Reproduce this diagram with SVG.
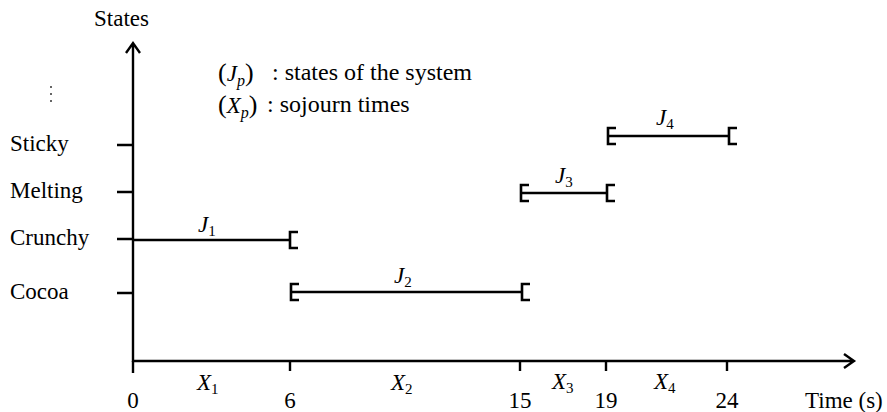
<svg xmlns="http://www.w3.org/2000/svg" width="887" height="412" viewBox="0 0 887 412">
<style>
.ln{stroke:#000;stroke-width:2.4;fill:none}
.br{stroke:#000;stroke-width:2.6;fill:none}
.t{font-family:"Liberation Serif","Times New Roman",serif;font-size:23px;fill:#000}
.lg{font-family:"Liberation Serif","Times New Roman",serif;font-size:24px;fill:#000}
.m{font-family:"Liberation Serif","Times New Roman",serif;font-size:23px;font-style:italic;fill:#000}
.p{font-family:"Liberation Serif","Times New Roman",serif;font-size:26px;fill:#000}
.s{font-size:15px;font-style:normal}
.si{font-size:16px;font-style:italic}
</style>
<rect width="887" height="412" fill="#fff"/>
<g id="axes">
<path class="ln" d="M133,362 V43 M126,53 L133,43 L140,53"/>
<path class="ln" d="M132,361 H854 M844,354 L854,361 L844,368"/>
<path class="ln" d="M117,145 H133 M117,192 H133 M117,239 H133 M117,293 H133"/>
<path class="ln" d="M133,361 V373 M290,361 V371 M520,361 V371 M606,361 V371 M727,361 V371"/>
<text class="t" x="94" y="26">States</text>
<text class="t" x="805" y="408">Time (s)</text>
<text class="t" x="133" y="408" text-anchor="middle">0</text>
<text class="t" x="290" y="408" text-anchor="middle">6</text>
<text class="t" x="520" y="408" text-anchor="middle">15</text>
<text class="t" x="606" y="408" text-anchor="middle">19</text>
<text class="t" x="727" y="408" text-anchor="middle">24</text>
<text class="t" x="10" y="151">Sticky</text>
<text class="t" x="10" y="198">Melting</text>
<text class="t" x="10" y="245">Crunchy</text>
<text class="t" x="10" y="299">Cocoa</text>
<path d="M51,86 v2 M51,93 v2 M51,100 v2" stroke="#000" stroke-width="1.2"/>
</g>
<g id="legend">
<text class="p" x="218" y="81">(<tspan class="m">J</tspan><tspan class="m si" dy="5">p</tspan><tspan dy="-5">)</tspan></text>
<text class="lg" x="272" y="80">: states of the system</text>
<text class="p" x="218" y="113">(<tspan class="m">X</tspan><tspan class="m si" dy="5">p</tspan><tspan dy="-5">)</tspan></text>
<text class="lg" x="267" y="112">: sojourn times</text>
</g>
<g id="connectors">
<g id="J1">
<path class="ln" d="M133,240 H290"/>
<path class="br" d="M298,232 H290 V248 H298"/>
<text class="m" x="198" y="232">J<tspan class="s" dy="4">1</tspan></text>
</g>
<g id="J2">
<path class="ln" d="M290,292 H521"/>
<path class="br" d="M299,284 H291 V300 H299 M530,284 H522 V300 H530"/>
<text class="m" x="394" y="283">J<tspan class="s" dy="4">2</tspan></text>
</g>
<g id="J3">
<path class="ln" d="M520,193 H607"/>
<path class="br" d="M529,185 H521 V201 H529 M615,185 H607 V201 H615"/>
<text class="m" x="555" y="183">J<tspan class="s" dy="4">3</tspan></text>
</g>
<g id="J4">
<path class="ln" d="M607,136 H728"/>
<path class="br" d="M616,128 H608 V144 H616 M737,128 H729 V144 H737"/>
<text class="m" x="656" y="125">J<tspan class="s" dy="4">4</tspan></text>
</g>
</g>
<g id="sojourn">
<text class="m" x="197" y="390">X<tspan class="s" dy="4">1</tspan></text>
<text class="m" x="391" y="390">X<tspan class="s" dy="4">2</tspan></text>
<text class="m" x="552" y="389">X<tspan class="s" dy="4">3</tspan></text>
<text class="m" x="654" y="389">X<tspan class="s" dy="4">4</tspan></text>
</g>
</svg>
